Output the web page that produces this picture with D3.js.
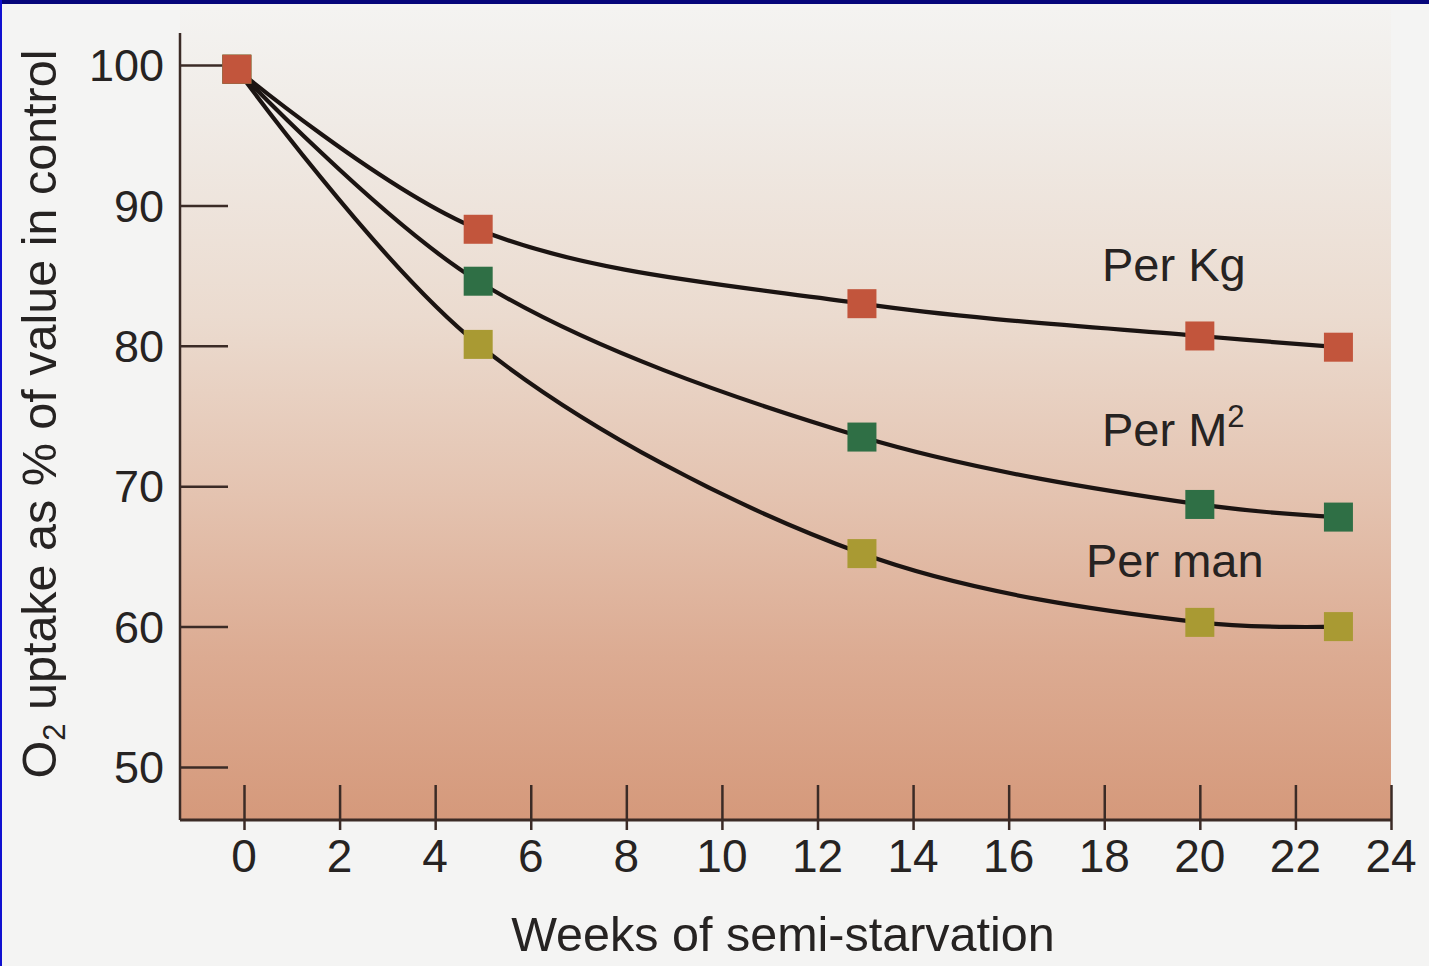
<!DOCTYPE html>
<html>
<head>
<meta charset="utf-8">
<script src="https://cdn.jsdelivr.net/npm/d3@7"></script>
<style>
  html, body { margin: 0; padding: 0; background: #f4f4f3; }
  svg { display: block; }
  text { font-family: "Liberation Sans", Arial, sans-serif; fill: #262322; }
</style>
</head>
<body>
<svg id="chart" width="1429" height="966"></svg>
<script>
// Weeks at which oxygen uptake was measured
const weeks = [-0.15, 4.9, 12.93, 20.0, 22.9];

// O2 uptake as % of the control value, one array per normalisation
const perKg  = [99.7, 88.3, 83.0, 80.7, 79.9];
const perM2  = [99.7, 84.6, 73.5, 68.7, 67.8];
const perMan = [99.7, 80.1, 65.2, 60.3, 60.0];

const seriesNames  = ["Per Kg", "Per M", "Per man"];
const seriesColors = ["#c2553c", "#2f6f45", "#a99a33"];

const xTicks = [0, 2, 4, 6, 8, 10, 12, 14, 16, 18, 20, 22, 24];
const yTicks = [50, 60, 70, 80, 90, 100];

const xTitle = "Weeks of semi-starvation";

const svg = d3.select("#chart");
const W = 1429, H = 966;

// page background and frame
svg.append("rect").attr("width", W).attr("height", H).attr("fill", "#f4f4f3");

const defs = svg.append("defs");
const grad = defs.append("linearGradient")
  .attr("id", "plotBg").attr("x1", 0).attr("y1", 0).attr("x2", 0).attr("y2", 1);
[[0, "#f4f3f1"], [0.14, "#f0ebe6"], [0.38, "#ebdbcf"], [0.6, "#e4c3b0"],
 [0.8, "#dcab92"], [1, "#d5997b"]].forEach(([o, c]) =>
  grad.append("stop").attr("offset", o).attr("stop-color", c));

const x = d3.scaleLinear().domain([0, 24]).range([244, 1391]);
const y = d3.scaleLinear().domain([50, 100]).range([767, 65]);

const plotLeft = 180, plotRight = 1391, plotBottom = 820, plotTop = 8;

svg.append("rect")
  .attr("x", plotLeft).attr("y", plotTop)
  .attr("width", plotRight - plotLeft).attr("height", plotBottom - plotTop)
  .attr("fill", "url(#plotBg)");

const axisColor = "#3b2b26";

// y axis: vertical line plus inward ticks
svg.append("line")
  .attr("x1", plotLeft).attr("x2", plotLeft)
  .attr("y1", 33).attr("y2", plotBottom)
  .attr("stroke", axisColor).attr("stroke-width", 2.5);

const yAxis = d3.axisRight(y).tickValues(yTicks).tickSize(48).tickFormat("");
const gy = svg.append("g").attr("transform", `translate(${plotLeft},0)`).call(yAxis);
gy.select(".domain").remove();
gy.selectAll(".tick line").attr("stroke", axisColor).attr("stroke-width", 2.5);

svg.append("g").selectAll("text")
  .data(yTicks).join("text")
  .attr("x", 164).attr("y", d => y(d))
  .attr("dy", "0.36em")
  .attr("text-anchor", "end")
  .attr("font-size", 45)
  .text(d => d);

// x axis: baseline and ticks straddling it
svg.append("line")
  .attr("x1", plotLeft).attr("x2", plotRight)
  .attr("y1", plotBottom).attr("y2", plotBottom)
  .attr("stroke", axisColor).attr("stroke-width", 3);

const xAxis = d3.axisTop(x).tickValues(xTicks).tickSize(35).tickFormat("");
const gx = svg.append("g").attr("transform", `translate(0,${plotBottom})`).call(xAxis);
gx.select(".domain").remove();
gx.selectAll(".tick line").attr("stroke", axisColor).attr("stroke-width", 2.5);
gx.selectAll(".tick").append("line")
  .attr("y1", 0).attr("y2", 10)
  .attr("stroke", axisColor).attr("stroke-width", 2.5);

svg.append("g").selectAll("text")
  .data(xTicks).join("text")
  .attr("x", d => x(d)).attr("y", 872)
  .attr("text-anchor", "middle")
  .attr("font-size", 46)
  .text(d => d);

// axis titles
svg.append("text")
  .attr("x", 783).attr("y", 951)
  .attr("text-anchor", "middle")
  .attr("font-size", 48.5)
  .text(xTitle);

const yt = svg.append("text")
  .attr("transform", "translate(56,414) rotate(-90)")
  .attr("text-anchor", "middle")
  .attr("font-size", 48.5);
yt.append("tspan").text("O");
yt.append("tspan").attr("font-size", 31).attr("dy", 9).text("2");
yt.append("tspan").attr("dy", -9).text(" uptake as % of value in control");

// curves and markers
const seriesData = [perKg, perM2, perMan].map((vals, i) => ({
  name: seriesNames[i],
  color: seriesColors[i],
  points: vals.map((v, j) => ({ w: weeks[j], v }))
}));

const line = d3.line()
  .x(d => x(d.w)).y(d => y(d.v))
  .curve(d3.curveCatmullRom.alpha(0.5));

svg.append("g").selectAll("path")
  .data(seriesData).join("path")
  .attr("d", d => line(d.points))
  .attr("fill", "none")
  .attr("stroke", "#1b1412")
  .attr("stroke-width", 4.2);

const size = 29;
const markerG = svg.append("g");
// later series first so the shared starting marker shows the first colour
seriesData.slice().reverse().forEach(s => {
  markerG.selectAll(null)
    .data(s.points).join("rect")
    .attr("x", d => x(d.w) - size / 2)
    .attr("y", d => y(d.v) - size / 2)
    .attr("width", size).attr("height", size)
    .attr("fill", s.color);
});

// series labels
svg.append("text")
  .attr("x", 1102).attr("y", 281)
  .attr("font-size", 47)
  .text(seriesNames[0]);

const m2 = svg.append("text")
  .attr("x", 1102).attr("y", 446)
  .attr("font-size", 47);
m2.append("tspan").text(seriesNames[1]);
m2.append("tspan").attr("font-size", 31).attr("dy", -19).text("2");

svg.append("text")
  .attr("x", 1086).attr("y", 577)
  .attr("font-size", 47)
  .text(seriesNames[2]);

// slide frame: navy band on top, blue rule on the left
svg.append("rect").attr("x", 0).attr("y", 0).attr("width", W).attr("height", 4).attr("fill", "#05057a");
svg.append("rect").attr("x", 0).attr("y", 0).attr("width", 2).attr("height", H).attr("fill", "#1010d0");
</script>
</body>
</html>
